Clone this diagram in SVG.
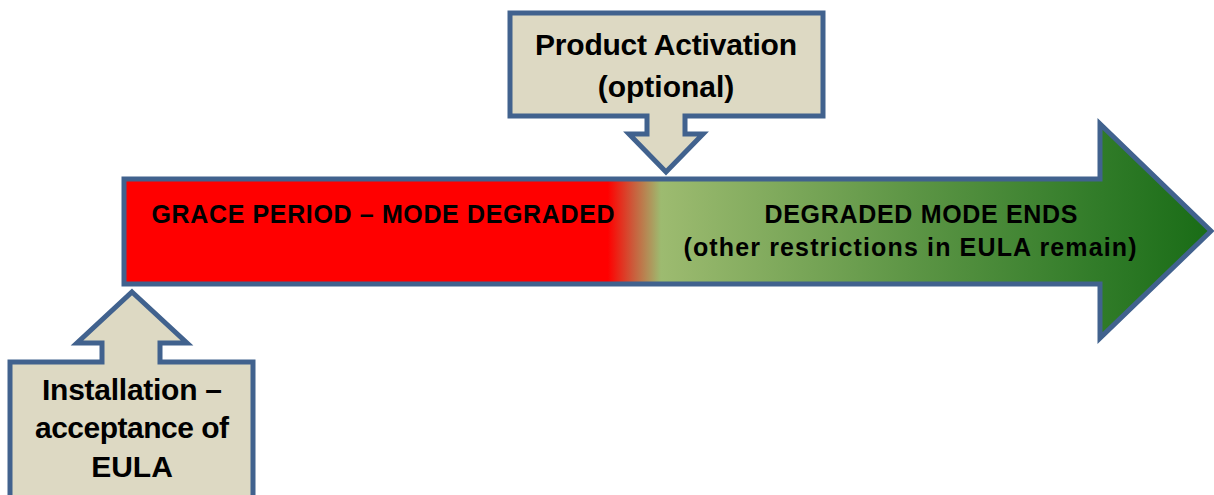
<svg xmlns="http://www.w3.org/2000/svg" width="1214" height="495" viewBox="0 0 1214 495">
  <defs>
    <linearGradient id="mainGrad" gradientUnits="userSpaceOnUse" x1="124" y1="0" x2="1211" y2="0">
      <stop offset="0" stop-color="#FF0000"/>
      <stop offset="0.445" stop-color="#FF0000"/>
      <stop offset="0.468" stop-color="#CC5A3A"/>
      <stop offset="0.494" stop-color="#9DBB70"/>
      <stop offset="0.72" stop-color="#5E9646"/>
      <stop offset="0.9" stop-color="#307B28"/>
      <stop offset="1" stop-color="#196C16"/>
    </linearGradient>
  </defs>
  <style>
    .shape { stroke: #41628E; stroke-width: 5; stroke-linejoin: miter; }
    .callout { fill: #DDD9C3; }
    .t { font-family: "Liberation Sans", Arial, sans-serif; font-weight: bold; fill: #000000; text-anchor: middle; }
    .big { font-size: 30px; }
    .bar { font-size: 25px; }
  </style>
  <rect width="1214" height="495" fill="#FFFFFF"/>
  <g id="timeline">
    <path class="shape" fill="url(#mainGrad)" d="M124,179 H1100 V124 L1211,231 L1100,338 V284 H124 Z"/>
    <text class="t bar" x="383" y="223" textLength="463" lengthAdjust="spacing">GRACE PERIOD – MODE DEGRADED</text>
    <text class="t bar" x="921" y="223" textLength="313" lengthAdjust="spacing">DEGRADED MODE ENDS</text>
    <text class="t bar" x="910" y="256" textLength="453" lengthAdjust="spacing">(other restrictions in EULA remain)</text>
  </g>
  <g id="product-activation">
    <path class="shape callout" d="M510,13 H823 V116 H685 V134 H703 L666,172 L629,134 H647 V116 H510 Z"/>
    <text class="t big" x="666" y="55" textLength="262" lengthAdjust="spacing">Product Activation</text>
    <text class="t big" x="666" y="97">(optional)</text>
  </g>
  <g id="installation">
    <path class="shape callout" d="M132,292 L187,343 H160 V362 H253 V500 H10 V362 H102 V343 H77 Z"/>
    <text class="t big" x="132" y="400" textLength="180" lengthAdjust="spacing">Installation –</text>
    <text class="t big" x="132" y="438" textLength="194" lengthAdjust="spacing">acceptance of</text>
    <text class="t big" x="132" y="477">EULA</text>
  </g>
  <g id="connectors"/>
</svg>
